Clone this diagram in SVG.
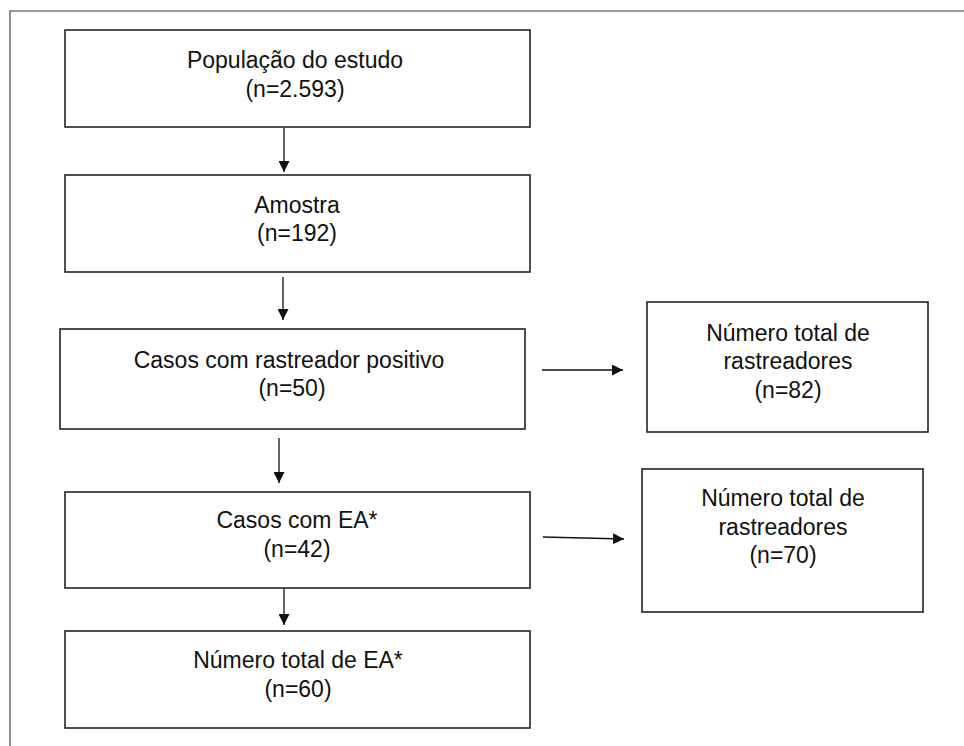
<svg xmlns="http://www.w3.org/2000/svg" width="964" height="746" viewBox="0 0 964 746">
<style>
.box{fill:#fff;stroke:#222;stroke-width:1.6}
.t{font-family:"Liberation Sans",Arial,sans-serif;font-size:23px;fill:#111;text-anchor:middle}
.c{stroke:#111;stroke-width:1.3;fill:none;marker-end:url(#ah)}
</style>
<defs>
<marker id="ah" viewBox="0 0 10 10" refX="10" refY="5" markerWidth="11" markerHeight="11" markerUnits="userSpaceOnUse" orient="auto">
<path d="M0,0 L10,5 L0,10 z" fill="#111"/>
</marker>
</defs>
<rect width="964" height="746" fill="#fff"/>
<path d="M10,746 V11 H964" fill="none" stroke="#777" stroke-width="1.6"/>
<g id="n1"><rect class="box" x="65" y="30" width="465" height="97"/><text class="t" x="295" y="68">População do estudo</text><text class="t" x="295" y="97">(n=2.593)</text></g>
<g id="n2"><rect class="box" x="65" y="175" width="465" height="97"/><text class="t" x="297" y="213">Amostra</text><text class="t" x="297" y="241">(n=192)</text></g>
<g id="n3"><rect class="box" x="60" y="329" width="465" height="100"/><text class="t" x="289" y="368">Casos com rastreador positivo</text><text class="t" x="292" y="396">(n=50)</text></g>
<g id="n4"><rect class="box" x="65" y="492" width="465" height="96"/><text class="t" x="297" y="528">Casos com EA*</text><text class="t" x="297" y="557">(n=42)</text></g>
<g id="n5"><rect class="box" x="65" y="631" width="465" height="97"/><text class="t" x="298" y="668">Número total de EA*</text><text class="t" x="298" y="697">(n=60)</text></g>
<g id="n6"><rect class="box" x="647" y="302" width="281" height="130"/><text class="t" x="788" y="341">Número total de</text><text class="t" x="788" y="369">rastreadores</text><text class="t" x="788" y="398">(n=82)</text></g>
<g id="n7"><rect class="box" x="642" y="469" width="281" height="143"/><text class="t" x="783" y="506">Número total de</text><text class="t" x="783" y="535">rastreadores</text><text class="t" x="783" y="563">(n=70)</text></g>
<g id="connectors">
<path class="c" d="M284,128 V172"/>
<path class="c" d="M283,277 V320"/>
<path class="c" d="M279,438 V483"/>
<path class="c" d="M284,589 V625"/>
<path class="c" d="M542,370 H623"/>
<path class="c" d="M543,537 L624,539"/>
</g>
</svg>
